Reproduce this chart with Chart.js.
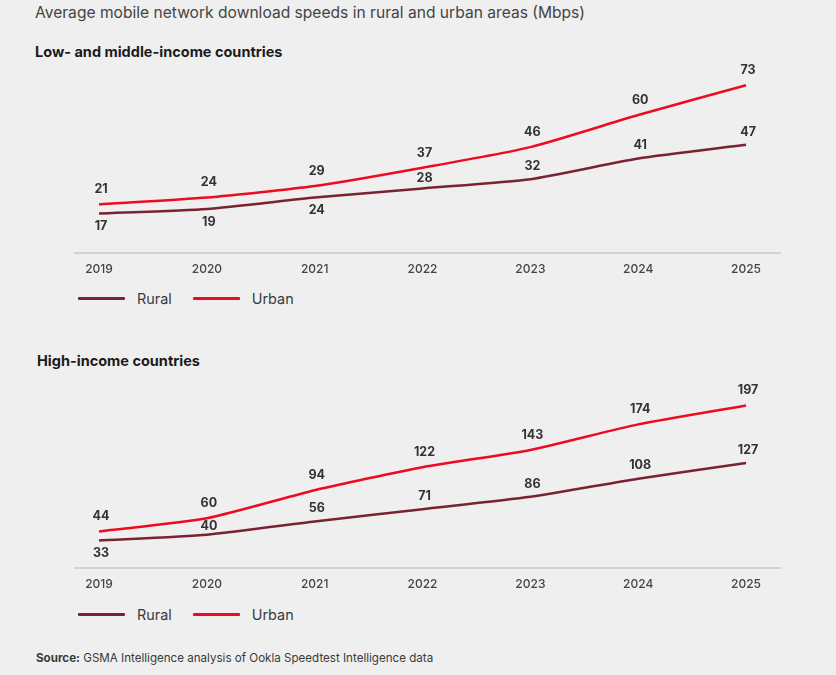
<!DOCTYPE html>
<html>
<head>
<meta charset="utf-8">
<script src="https://cdn.jsdelivr.net/npm/chart.js@4/dist/chart.umd.min.js"></script>
<style>
  body { margin: 0; background: #efefef; font-family: Inter, "Noto Sans", sans-serif; }
  #page { position: relative; width: 836px; height: 675px; overflow: hidden; background: #efefef; }
  .txt { position: absolute; white-space: nowrap; }
  #title { left: 35px; top: 3px; font-size: 15.6px; color: #444; }
  .sub { font-size: 14.5px; font-weight: 700; color: #1b1b1b; }
  #source { left: 36px; top: 651px; font-size: 11.6px; color: #3a3a3a; }
  canvas { position: absolute; left: 0; }
  .legend { position: absolute; left: 78px; height: 20px; display: flex; align-items: center; font-size: 14.4px; color: #3a3a3a; }
  .legend .item { display: flex; align-items: center; margin-right: 21px; }
  .legend .swatch { width: 47px; height: 3px; border-radius: 1px; margin-right: 12px; }
</style>
</head>
<body>
<div id="page">
  <div class="txt" id="title">Average mobile network download speeds in rural and urban areas (Mbps)</div>
  <div class="txt sub" style="left:35px;top:43px">Low- and middle-income countries</div>
  <canvas id="chart1" width="836" height="237" style="top:50px"></canvas>
  <div class="legend" id="legend1" style="top:288px"></div>
  <div class="txt sub" style="left:37px;top:352px">High-income countries</div>
  <canvas id="chart2" width="836" height="237" style="top:365px"></canvas>
  <div class="legend" id="legend2" style="top:604px"></div>
  <div class="txt" id="source"><b>Source:</b> GSMA Intelligence analysis of Ookla Speedtest Intelligence data</div>
</div>
<script>
// anos
const years = [2019, 2020, 2021, 2022, 2023, 2024, 2025];

// paises de renda baixa e media
const lmicRural = [17, 19, 24, 28, 32, 41, 47];
const lmicUrban = [21, 24, 29, 37, 46, 60, 73];

// paises de renda alta
const hicRural = [33, 40, 56, 71, 86, 108, 127];
const hicUrban = [44, 60, 94, 122, 143, 174, 197];

const ruralColor = "#7a2231";
const urbanColor = "#ee0a20";

Chart.defaults.font.family = "Inter, 'Noto Sans', sans-serif";

// rotulos de valor: urbano acima, rural abaixo quando as linhas estao perto
const valueLabels = {
  id: "valueLabels",
  afterDatasetsDraw(chart) {
    const ctx = chart.ctx;
    const rural = chart.getDatasetMeta(0).data;
    const urban = chart.getDatasetMeta(1).data;
    const rVals = chart.data.datasets[0].data;
    const uVals = chart.data.datasets[1].data;
    ctx.save();
    ctx.font = "700 12.5px Inter, 'Noto Sans', sans-serif";
    ctx.fillStyle = "#333";
    ctx.textAlign = "center";
    ctx.textBaseline = "middle";
    for (let i = 0; i < urban.length; i++) {
      const u = urban[i], r = rural[i];
      ctx.fillText(uVals[i], u.x + 2, u.y - 15);
      const gap = r.y - u.y;
      const ry = gap < 14 ? r.y + 13 : r.y - Math.min(13, gap / 2);
      ctx.fillText(rVals[i], r.x + 2, ry);
    }
    ctx.restore();
  }
};

function makeChart(id, rural, urban, yMax) {
  return new Chart(document.getElementById(id), {
    type: "line",
    data: {
      labels: years,
      datasets: [
        { label: "Rural", data: rural, borderColor: ruralColor, backgroundColor: ruralColor, borderWidth: 2.5, pointRadius: 0, tension: 0.2, fill: false, clip: false },
        { label: "Urban", data: urban, borderColor: urbanColor, backgroundColor: urbanColor, borderWidth: 2.5, pointRadius: 0, tension: 0.2, fill: false, clip: false }
      ]
    },
    options: {
      responsive: false,
      animation: false,
      layout: { padding: { top: 10, left: 75, right: 56, bottom: 0 } },
      plugins: { legend: { display: false }, tooltip: { enabled: false } },
      scales: {
        x: {
          type: "linear",
          min: 2018.777,
          max: 2025.315,
          afterBuildTicks: axis => { axis.ticks = years.map(v => ({ value: v })); },
          grid: { display: false, drawTicks: false },
          border: { display: true, color: "#d3d3d3", width: 2 },
          ticks: { padding: 10, color: "#444", font: { size: 12, weight: "500" }, callback: v => String(v) }
        },
        y: { display: false, min: 0, max: yMax }
      }
    },
    plugins: [valueLabels]
  });
}

const grafico1 = makeChart("chart1", lmicRural, lmicUrban, 84);
const grafico2 = makeChart("chart2", hicRural, hicUrban, 234);

// legenda em html
function buildLegend(el, chart) {
  chart.data.datasets.forEach(ds => {
    const item = document.createElement("div");
    item.className = "item";
    const sw = document.createElement("span");
    sw.className = "swatch";
    sw.style.background = ds.borderColor;
    const t = document.createElement("span");
    t.textContent = ds.label;
    item.appendChild(sw);
    item.appendChild(t);
    el.appendChild(item);
  });
}
buildLegend(document.getElementById("legend1"), grafico1);
buildLegend(document.getElementById("legend2"), grafico2);
</script>
</body>
</html>
